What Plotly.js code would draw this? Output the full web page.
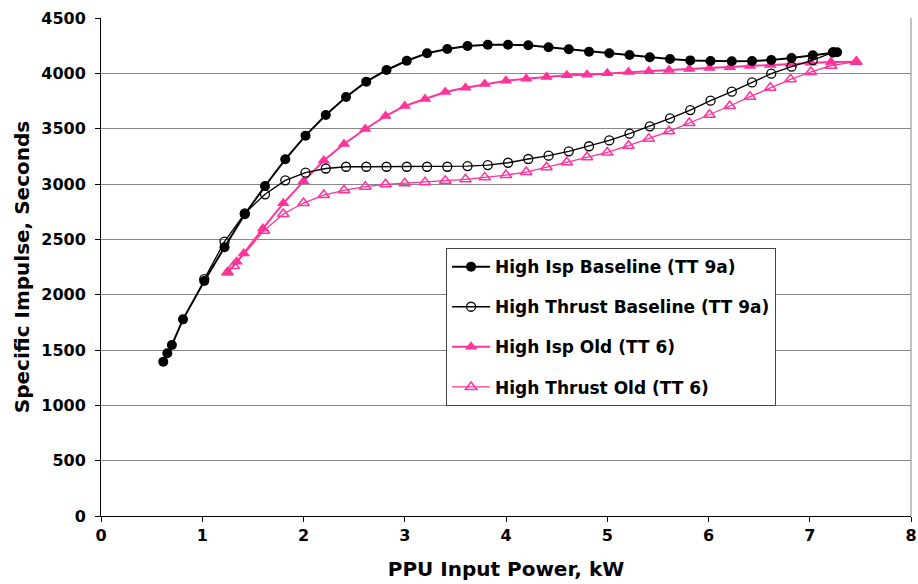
<!DOCTYPE html>
<html><head><meta charset="utf-8">
<script src="https://cdn.plot.ly/plotly-3.0.1.min.js"></script>
<style>html,body{margin:0;padding:0;background:#fff}#chart{width:918px;height:584px}</style>
</head><body><div id="chart"></div>
<script>
const ispBaseX = [0.615,0.655,0.70,0.81,1.02,1.22,1.42,1.62,1.82,2.02,2.22,2.42,2.62,2.82,3.02,3.22,3.42,3.62,3.82,4.02,4.22,4.42,4.62,4.82,5.02,5.22,5.42,5.62,5.82,6.02,6.23,6.43,6.62,6.82,7.03,7.23,7.27];
const ispBaseY = [1394,1470,1545,1777,2123,2428,2726,2982,3223,3437,3624,3786,3925,4030,4114,4181,4220,4247,4259,4259,4253,4235,4217,4196,4181,4166,4145,4129,4117,4111,4109,4111,4120,4138,4163,4190,4190];

const thrBaseX = [1.02,1.22,1.42,1.62,1.82,2.02,2.22,2.42,2.62,2.82,3.02,3.22,3.42,3.62,3.82,4.02,4.22,4.42,4.62,4.82,5.02,5.22,5.42,5.62,5.82,6.02,6.23,6.43,6.62,6.82,7.03,7.23];
const thrBaseY = [2141,2479,2735,2907,3033,3102,3140,3156,3156,3156,3156,3156,3156,3162,3171,3192,3226,3256,3295,3341,3394,3455,3521,3593,3668,3753,3834,3918,3997,4060,4120,4190];

const ispOldX = [1.25,1.34,1.41,1.60,1.80,2.00,2.20,2.40,2.61,2.81,3.00,3.20,3.40,3.60,3.79,4.00,4.20,4.40,4.60,4.80,5.00,5.21,5.41,5.61,5.81,6.01,6.21,6.41,6.61,6.81,7.01,7.21,7.46];
const ispOldY = [2202,2298,2373,2599,2825,3024,3212,3361,3497,3614,3705,3768,3831,3870,3903,3933,3952,3967,3982,3988,4000,4012,4018,4030,4039,4048,4054,4066,4075,4087,4096,4102,4105];

const thrOldX = [1.25,1.31,1.61,1.80,2.00,2.20,2.40,2.61,2.81,3.00,3.20,3.40,3.60,3.79,4.00,4.20,4.40,4.60,4.80,5.00,5.21,5.41,5.61,5.81,6.01,6.21,6.41,6.61,6.81,7.01,7.21,7.46];
const thrOldY = [2200,2259,2578,2729,2828,2900,2943,2976,2997,3006,3015,3030,3042,3060,3081,3108,3151,3196,3241,3285,3346,3410,3476,3551,3626,3705,3789,3870,3946,4012,4069,4105];

const seriesNames = ['High Isp Baseline (TT 9a)','High Thrust Baseline (TT 9a)','High Isp Old (TT 6)','High Thrust Old (TT 6)'];
const pink = '#FF3399';
const font = 'DejaVu Sans, Verdana, sans-serif';

const traces = [
  {x: thrOldX, y: thrOldY, name: seriesNames[3], legendgroup:'d', legendrank:4, mode:'lines+markers',
   line:{color:pink,width:1.3}, marker:{symbol:'triangle-up-open',size:10,color:pink,line:{width:1.5,color:pink}}},
  {x: ispOldX, y: ispOldY, name: seriesNames[2], legendgroup:'c', legendrank:3, mode:'lines+markers',
   line:{color:pink,width:2}, marker:{symbol:'triangle-up',size:11,color:pink}},
  {x: thrBaseX, y: thrBaseY, name: seriesNames[1], legendgroup:'b', legendrank:2, mode:'lines+markers',
   line:{color:'#000',width:1.3}, marker:{symbol:'circle-open',size:9,color:'#000',line:{width:1.3,color:'#000'}}},
  {x: ispBaseX, y: ispBaseY, name: seriesNames[0], legendgroup:'a', legendrank:1, mode:'lines+markers',
   line:{color:'#000',width:2}, marker:{symbol:'circle',size:10,color:'#000'}}
];

const layout = {
  width:918, height:584,
  margin:{l:101, r:7, t:18, b:68},
  paper_bgcolor:'#fff', plot_bgcolor:'#fff',
  font:{family:font, color:'#000'},
  showlegend:true,
  legend:{x:0.426, y:0.538, xanchor:'left', yanchor:'top', bgcolor:'#fff', bordercolor:'#444', borderwidth:1,
    itemwidth:38,
    font:{family:font, size:17, weight:'bold', color:'#000'}, traceorder:'grouped', tracegroupgap:15},
  xaxis:{range:[0,8], dtick:1, tick0:0, showgrid:false, zeroline:false, showline:true, linecolor:'#000', linewidth:1,
    ticks:'outside', ticklen:5, tickcolor:'#000', tickfont:{family:font, size:16, weight:'bold'},
    title:{text:'PPU Input Power, kW', font:{family:font, size:20, weight:'bold'}, standoff:17}},
  yaxis:{range:[0,4500], dtick:500, tick0:0, showgrid:true, gridcolor:'#888', gridwidth:1, zeroline:false, showline:true,
    linecolor:'#000', linewidth:1, ticks:'outside', ticklen:5, tickcolor:'#000', ticklabelstandoff:6,
    tickfont:{family:font, size:16, weight:'bold'},
    title:{text:'Specific Impulse, Seconds', font:{family:font, size:20, weight:'bold'}, standoff:6}},
  shapes:[{type:'line', xref:'paper', yref:'paper', x0:1, x1:1, y0:0, y1:1, line:{color:'#888', width:1}}]
};

Plotly.newPlot('chart', traces, layout, {displayModeBar:false, staticPlot:true});
</script></body></html>
